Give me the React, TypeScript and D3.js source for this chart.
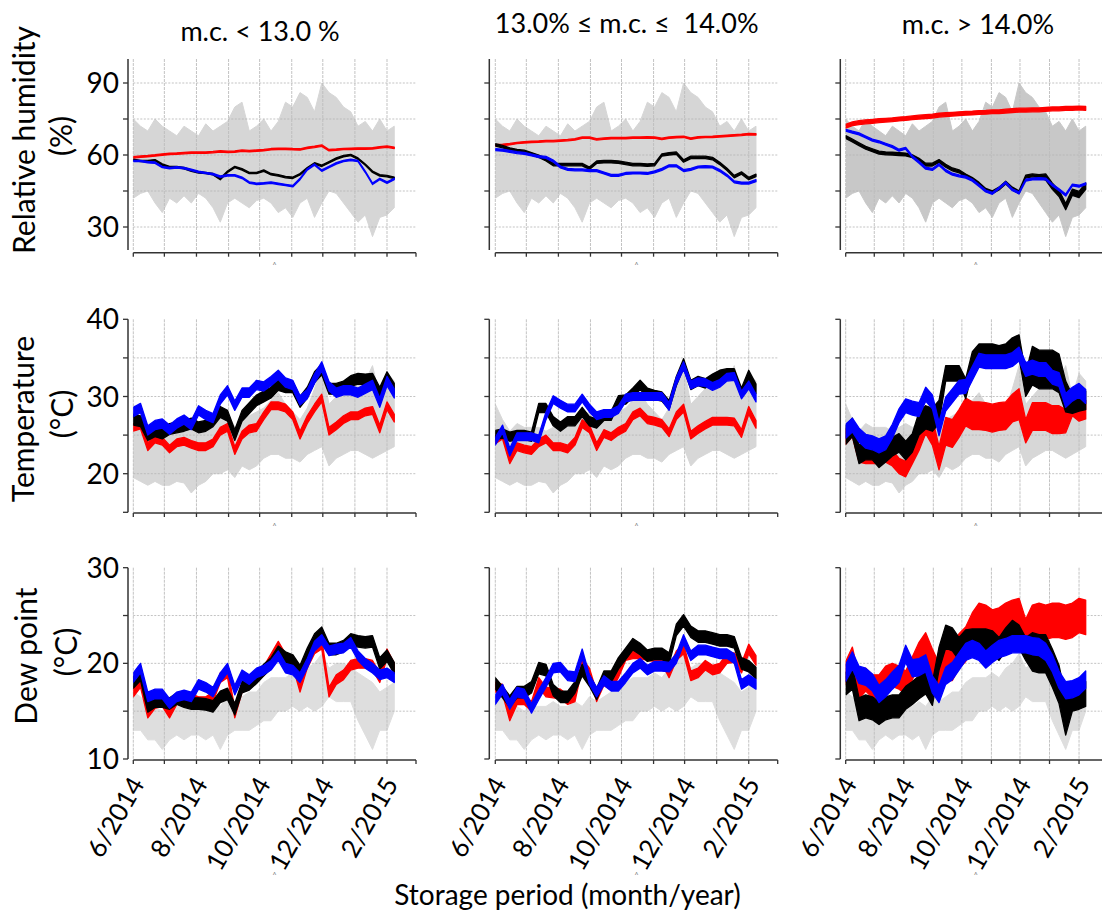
import React from "react";
import * as d3 from "d3";

// Sample offsets (days after 1 June 2014) shared by every weekly series
const sampleDays = [0, 7, 14, 21, 28, 35, 42, 49, 56, 63, 70, 77, 84, 91, 98, 105, 112, 119, 126, 133, 140, 147, 154, 161, 168, 175, 182, 189, 196, 203, 210, 217, 224, 231, 238, 245, 252];

// Ambient (outside) envelope, weekly low / high
const ambientRhLo = [42, 44, 45, 40, 36, 42, 40, 43, 40, 44, 42, 38, 32, 40, 42, 40, 38, 41, 42, 40, 36, 38, 34, 40, 42, 34, 40, 45, 44, 40, 36, 32, 35, 26, 34, 35, 38];
const ambientRhHi = [75, 72, 70, 75, 72, 70, 68, 72, 70, 68, 73, 70, 72, 74, 80, 82, 70, 72, 75, 70, 74, 82, 80, 86, 84, 78, 90, 86, 84, 80, 78, 72, 74, 70, 75, 70, 72];
const ambientTempLo = [19.5, 19, 18.5, 19, 18.5, 18.5, 19, 18.8, 17.5, 18.5, 19, 20, 20, 20.5, 19.5, 21, 20.5, 21, 22, 22.5, 22.5, 22, 22, 21.5, 22.5, 23, 23.5, 21, 22, 22.5, 23, 23, 22.5, 22, 22.5, 23, 23.5];
const ambientTempHi = [29, 27, 25.5, 26.5, 26, 26, 26, 25.5, 26, 26.5, 26, 26.5, 27.5, 28, 26, 27, 27.5, 28, 28.5, 29.5, 30.5, 29, 28, 27, 28.5, 31, 34, 29, 30, 31, 32, 33, 32, 34, 30, 33, 32];
const ambientDewLo = [13, 13, 12, 12, 11, 12, 12.5, 12, 12.5, 12.5, 12, 12.5, 11, 12.5, 13, 13, 13, 13.5, 14, 14, 15, 15, 15.5, 15, 15.5, 15, 15.5, 16.5, 16, 16, 16, 14, 12.5, 11, 13, 13, 15];
const ambientDewHi = [17, 16.5, 15.5, 15.5, 15, 15.5, 15.5, 15.5, 16, 15.5, 15.5, 16, 15.5, 16.5, 16, 16.5, 17, 17, 18, 18.5, 18.5, 18.5, 19, 18.5, 19.5, 20, 21, 19.5, 20, 20, 19.5, 19, 18.5, 18, 17, 17.5, 18];

// Relative humidity (%) inside the stores
const rhLowRed = [59, 59.3, 59.5, 59.8, 60.2, 60.5, 60.6, 60.8, 61, 61, 61, 61.2, 61.5, 61.3, 61.4, 61.8, 61.6, 61.8, 62, 62.4, 62.6, 62.6, 62.4, 62.3, 63, 63.4, 63.9, 62, 62.2, 62.5, 62.6, 62.7, 62.7, 62.8, 63.2, 63.5, 63];
const rhLowBlack = [58, 57.5, 57.5, 57.8, 56, 55, 55, 54.5, 53.5, 52.8, 52.5, 52, 50, 53, 55, 54, 52.5, 52.5, 53.5, 52, 51.5, 50.8, 50.5, 52, 54.5, 56.5, 55.5, 57, 58.5, 59.5, 60, 58.5, 56, 53, 51.5, 51.2, 50.5];
const rhLowBlue = [57.5, 57.5, 57, 56.8, 55, 54.5, 54.8, 54.5, 53.8, 53, 52.5, 52, 51, 51.5, 51.5, 50.5, 48.5, 48, 48.2, 48.5, 48, 47.5, 47, 50, 54, 56, 53.5, 55, 56.5, 57.5, 58, 57.5, 53, 48, 50, 48.5, 50];
const rhMidRed = [64, 64.2, 64.5, 65, 65.3, 65.5, 65.6, 65.8, 65.8, 66, 66.2, 66.5, 67.2, 67.2, 66.5, 66.8, 67, 67, 67, 67.2, 67.2, 67.3, 67.2, 66.7, 67.2, 67.4, 67.6, 66.8, 67.3, 67.5, 67.6, 67.8, 68, 68.2, 68.4, 68.7, 68.6];
const rhMidBlack = [64.2, 63.5, 62.5, 61.8, 61.5, 60.5, 59.5, 58, 56, 56, 56, 56, 56, 54.5, 57, 57.2, 57.2, 57, 56.5, 56, 56, 55.8, 56, 60, 60.5, 60.8, 57.5, 59, 59, 59, 58.5, 56.5, 54, 51, 52.5, 50.2, 51.5];
const rhMidBlue = [62.2, 62, 61.5, 61, 60.7, 60, 59.3, 59, 57.5, 55, 54, 53.8, 53.8, 53.5, 53.5, 52.5, 51.5, 51.5, 52.3, 52.5, 52.5, 52.3, 53, 54, 55.5, 55.5, 53.5, 54, 55, 55.2, 55, 53.5, 51.5, 48.8, 48.3, 48.3, 49.3];
const rhHighRed = [72, 73, 73.5, 73.8, 74, 74.3, 74.5, 74.7, 75, 75.2, 75.5, 75.8, 76, 76.2, 76.6, 76.8, 77, 77.2, 77.4, 77.5, 77.7, 77.8, 78, 78, 78.3, 78.5, 78.7, 78.7, 78.8, 78.8, 79, 79.2, 79.2, 79.4, 79.4, 79.6, 79.4];
const rhHighBlack = [67.5, 66, 64.5, 63, 62, 61, 60.7, 60.6, 60.4, 60.2, 59.5, 58, 56, 56, 57.5, 55.5, 54, 53.2, 51.5, 50, 48, 45.5, 44.5, 46, 48.5, 46, 44.5, 51, 51.5, 51.2, 50.8, 47, 44, 38.5, 44.5, 43.5, 47];
const rhHighBlue = [70.3, 69.5, 68.8, 67.5, 66.2, 65.5, 64.5, 63.5, 62, 62.8, 59.3, 57, 54.5, 54, 56, 53.5, 52, 51.3, 50.8, 49.5, 47.3, 45, 44, 46.2, 48.5, 45.5, 44.2, 49.5, 50, 50.2, 50, 47.5, 45.5, 43.3, 47.5, 47, 48];

// Temperature (°C) inside the stores
const tempLowRed = [26, 26.3, 23.5, 24.5, 24.2, 23.2, 24, 24.2, 23.8, 23.5, 23.5, 24, 25.5, 26, 23, 25, 25.8, 26, 27.5, 28.8, 28.8, 28.5, 27.5, 25, 27, 28.5, 29.8, 25.5, 26.2, 27, 27.5, 27.5, 28, 28.2, 25.8, 28.8, 27.2];
const tempLowBlack = [27, 26.8, 25, 25.5, 25.2, 25.8, 26, 26.2, 26.5, 26, 26.2, 26.8, 28, 27.5, 25, 27.5, 28.5, 29.5, 30, 30.5, 31.5, 31.2, 31.2, 29.3, 30.5, 32.5, 33.5, 31, 31, 31.3, 32, 32.3, 32.2, 32.3, 30.5, 32.5, 31];
const tempLowBlue = [28, 28.5, 25.6, 26.3, 26.5, 25.7, 26.5, 27, 26.3, 28.2, 27.6, 27.2, 29.6, 30.8, 28.8, 30.5, 30.5, 31.5, 31.3, 32, 32.8, 31.8, 31.5, 29.5, 30.3, 32.3, 33.9, 31.3, 30.5, 30.8, 30.8, 30.5, 31, 31.5, 29.2, 32, 30.4];
const tempMidRed = [24.4, 25, 21.8, 23.5, 23.2, 23, 24, 24.5, 23.5, 23.5, 23.2, 24.2, 26.5, 25.8, 23.5, 25.2, 24.8, 25.5, 26, 27.5, 28, 27, 26.8, 26.5, 25.3, 27.5, 28.5, 25, 25.7, 26.3, 26.8, 26.8, 26.8, 26.7, 25.2, 28.2, 26.4];
const tempMidBlack = [25, 25.2, 24.8, 25, 25, 24.8, 28.5, 28.5, 26.8, 26.1, 26.8, 26.8, 28, 26.8, 26.5, 27.5, 27.5, 29.5, 29.6, 30.5, 31.5, 30.5, 30.2, 30, 28.9, 32, 34.3, 31.5, 32, 31.7, 32.3, 32.8, 33, 33, 30.5, 32.8, 31];
const tempMidBlue = [24.2, 25.8, 22.8, 24.8, 24.8, 24.8, 24.5, 27.5, 29.6, 29, 28.5, 28.5, 29.8, 28.5, 27.5, 27.8, 27.8, 28.3, 29.8, 30, 30, 30, 30, 30, 28.7, 32, 34, 31.5, 31.9, 31.8, 31.3, 31.7, 32.5, 32.6, 30.2, 31.5, 29.8];
const tempHighRed = [24.8, 25.8, 22.5, 22.3, 22.3, 22.3, 22.5, 22, 21, 20.6, 22.3, 24.5, 27, 25.5, 22, 25.5, 25.2, 26.5, 28, 27.5, 27.5, 27.4, 27.2, 27.4, 27.5, 28.5, 29, 25.5, 27.4, 27.4, 27.4, 27, 27, 26.8, 29, 28.3, 28.3];
const tempHighBlack = [25, 26, 22.5, 23, 23, 22, 22.7, 23.5, 24, 23, 24, 26.5, 27.3, 27, 28, 33, 33, 33, 31, 34.5, 35.5, 35.5, 35.5, 35.3, 35.5, 36.3, 36.5, 31.5, 34, 33.5, 33.5, 33.5, 33, 30, 29, 29.3, 29.5];
const tempHighBlue = [25.5, 26.3, 25, 24.2, 24, 23.6, 24, 25.5, 27.5, 28.8, 28.5, 28.3, 30.3, 29.3, 25.8, 29, 30.1, 31.2, 31.3, 33, 34.7, 34.5, 34.5, 34.5, 34.5, 34.8, 35.5, 33.5, 33.8, 33.5, 33.5, 32.5, 32.2, 29.5, 30.3, 30.8, 30];

// Dew point (°C) inside the stores
const dewLowRed = [17, 18, 14.8, 15.8, 16, 14.8, 16.2, 16.5, 16.3, 16, 16, 16.5, 18.5, 19, 14.8, 17.5, 17.8, 18.8, 19.2, 20.5, 21.8, 20.5, 20.2, 17.5, 20, 21.5, 22, 17, 18.3, 18.8, 19.8, 20, 20, 19.8, 18.5, 21, 19.5];
const dewLowBlack = [18, 18.8, 15.5, 16, 16, 15.8, 16.3, 16, 15.8, 15.8, 15.7, 15.5, 16.5, 16.8, 15.2, 17.5, 17.8, 18.5, 19.3, 20, 21.2, 20.6, 20.3, 19.2, 21, 22.5, 23.2, 21.5, 21.5, 21.8, 22.5, 22.3, 22.2, 22.3, 20, 20.8, 19.5];
const dewLowBlue = [18.5, 19.5, 16.5, 16.8, 16.8, 15.8, 16.5, 16.7, 16.5, 17.8, 17.5, 17, 18.5, 19.5, 17.2, 18.8, 18.3, 19, 19.3, 19.8, 20.8, 19.5, 19.3, 18.5, 20, 21.8, 22.5, 21.3, 21.5, 21.6, 22.2, 20.8, 20, 19.5, 18.8, 19, 18.5];
const dewMidRed = [17.5, 17.3, 14.5, 16.2, 16.2, 15.5, 18, 17, 16.9, 16.8, 16.2, 16.5, 20, 19, 16.5, 18.2, 17.7, 19, 20.8, 21, 21, 20.8, 20.7, 20.5, 19, 20.8, 21.5, 18.7, 19, 19.8, 19.3, 19.5, 20.5, 20.6, 19.5, 21.5, 20.3];
const dewMidBlack = [17.9, 17, 16, 17, 17, 17.5, 19.5, 19.3, 17.2, 16.5, 16.5, 17.5, 19.3, 18.2, 16.8, 18.6, 18.6, 20, 21, 22, 21.5, 20.8, 21, 21, 20.5, 23.5, 24.5, 23.3, 22.8, 22.8, 22.6, 22.4, 22.4, 22.2, 20, 19.7, 19];
const dewMidBlue = [16.2, 17.3, 15.7, 17, 16.8, 15.3, 16.7, 18, 19.5, 19.6, 18.7, 18.6, 21, 18.3, 17, 18.2, 17.6, 17.6, 18.5, 19.5, 20, 19.3, 19.7, 19.7, 19.6, 20.5, 22.5, 20.8, 21.4, 21.4, 21.2, 21, 21, 20.5, 17.8, 18.3, 17.8];
const dewHighRed = [19, 20.5, 17.5, 18.3, 17.6, 17.6, 18.5, 18.8, 18.5, 18, 19.5, 21, 21.7, 20, 18.5, 20, 20, 21.3, 22, 23.5, 24.5, 24.3, 23.8, 24, 24.5, 24.8, 25, 22.8, 24.3, 24.5, 24.3, 24.5, 24.5, 24.3, 24.5, 25, 24.8];
const dewHighBlack = [17.9, 18.5, 15.2, 15.5, 15.3, 14.8, 15.3, 15.5, 15.5, 16.4, 16.9, 17.5, 18, 16.8, 20.5, 22.8, 22.5, 21.5, 22.3, 22.4, 22.4, 22.4, 22.2, 21.5, 22.5, 23.3, 22.8, 21.5, 21.2, 21, 21, 19.5, 17.8, 14.5, 16.3, 16.5, 16.8];
const dewHighBlue = [19, 20.3, 18.8, 18.6, 18, 16.8, 17.4, 18.2, 18.9, 21, 19.5, 19.6, 20, 17.8, 16.8, 18.7, 19.2, 20.2, 21.2, 21.5, 21.2, 20.4, 21, 21.5, 21.7, 22, 22, 22, 21.8, 21.7, 21.2, 20, 18.3, 17.2, 17.3, 17.6, 18.3];

// Half-width of the short-term fluctuation band around each trace
const rhHighBlackSpread = [0.6, 0.6, 0.6, 0.6, 0.6, 0.6, 0.6, 0.6, 0.6, 0.6, 0.6, 0.6, 0.6, 0.6, 0.6, 0.6, 0.6, 0.6, 0.6, 0.6, 0.6, 0.6, 0.6, 0.6, 0.6, 0.6, 0.6, 0.6, 0.6, 0.6, 1.3, 1.3, 1.3, 1.3, 1.3, 1.3, 1.3];
const tempHighBlackSpread = [1.2, 1.2, 1.2, 1.2, 1.2, 1.2, 1.2, 1.2, 1.2, 1.2, 1.2, 1.5, 1.5, 1.5, 1.5, 1, 1, 1, 1.3, 1.3, 1.3, 1.3, 1.3, 1.3, 1.3, 1.3, 1.5, 1.5, 2.5, 2.5, 2.5, 2.5, 2.5, 2, 1.2, 1.2, 1.2];
const tempHighRedSpread = [1, 1, 1, 1, 1, 1, 1, 1, 1, 1, 1, 1.5, 1.8, 1.8, 1.5, 1.8, 1.8, 1.8, 1.8, 1.8, 1.8, 1.8, 1.8, 1.8, 1.8, 1.8, 2, 1.5, 1.8, 1.8, 1.8, 1.8, 1.8, 1.5, 1.5, 1.5, 1.2];
const dewHighRedSpread = [1.2, 1.2, 1.2, 1.2, 1.2, 1.2, 1.2, 1.2, 1.2, 1.2, 1.2, 1.2, 1.5, 1.5, 1.5, 1.8, 1.8, 1.8, 1.8, 1.8, 1.8, 1.8, 1.8, 1.8, 1.8, 1.8, 1.8, 1.8, 1.8, 1.8, 1.8, 1.8, 1.8, 1.8, 1.8, 1.8, 1.8];
const dewHighBlackSpread = [1.2, 1.2, 1.2, 1.2, 1.2, 1.2, 1.2, 1.2, 1.2, 1.2, 1.2, 1.2, 1.2, 1.2, 1.2, 1.2, 1.2, 1.2, 1.2, 1.2, 1.2, 1.2, 1.2, 1.2, 1.2, 1.2, 1.2, 1.2, 2, 2, 2, 2, 2, 2, 1.3, 1.3, 1.3];

const columnTitles = ["m.c. < 13.0 %", "13.0% \u2264 m.c. \u2264  14.0%", "m.c. > 14.0%"];
const rowTitles = ["Relative humidity", "Temperature", "Dew point"];
const rowUnits = ["(%)", "(\u00B0C)", "(\u00B0C)"];
const xAxisTitle = "Storage period (month/year)";

const rhTicks = [30, 45, 60, 75, 90];
const rhLabels = [30, 60, 90];
const tempTicks = [15, 20, 25, 30, 35, 40];
const tempLabels = [20, 30, 40];
const tempGrid = [20, 25, 30, 35];
const dewTicks = [10, 15, 20, 25, 30];
const dewLabels = [10, 20, 30];
const dewGrid = [15, 20, 25];

const START = new Date(Date.UTC(2014, 5, 1));
const END = new Date(Date.UTC(2015, 2, 1));
const monthTicks = d3.utcMonth.range(START, new Date(Date.UTC(2015, 2, 2)));
const gridMonths = monthTicks.filter((d) => d < END);
const labelMonths = [
  new Date(Date.UTC(2014, 5, 1)),
  new Date(Date.UTC(2014, 7, 1)),
  new Date(Date.UTC(2014, 9, 1)),
  new Date(Date.UTC(2014, 11, 1)),
  new Date(Date.UTC(2015, 1, 1)),
];
const fmtMonth = (d: Date) => `${d.getUTCMonth() + 1}/${d.getUTCFullYear()}`;

const RED = "#ff0000";
const BLACK = "#000000";
const BLUE = "#0000ff";

type Trace = { values: number[]; spread: number | number[]; color: string };
type Ambient = { lo: number[]; hi: number[] };

const ambient: Ambient[] = [
  { lo: ambientRhLo, hi: ambientRhHi },
  { lo: ambientTempLo, hi: ambientTempHi },
  { lo: ambientDewLo, hi: ambientDewHi },
];

// traces[row][column], drawn red, black, blue (blue on top)
const traces: Trace[][][] = [
  [
    [{ values: rhLowRed, spread: 0.3, color: RED }, { values: rhLowBlack, spread: 0.3, color: BLACK }, { values: rhLowBlue, spread: 0.3, color: BLUE }],
    [{ values: rhMidRed, spread: 0.3, color: RED }, { values: rhMidBlack, spread: 0.5, color: BLACK }, { values: rhMidBlue, spread: 0.4, color: BLUE }],
    [{ values: rhHighRed, spread: 0.8, color: RED }, { values: rhHighBlack, spread: rhHighBlackSpread, color: BLACK }, { values: rhHighBlue, spread: 0.4, color: BLUE }],
  ],
  [
    [{ values: tempLowRed, spread: 0.5, color: RED }, { values: tempLowBlack, spread: 0.7, color: BLACK }, { values: tempLowBlue, spread: 0.6, color: BLUE }],
    [{ values: tempMidRed, spread: 0.5, color: RED }, { values: tempMidBlack, spread: 0.6, color: BLACK }, { values: tempMidBlue, spread: 0.5, color: BLUE }],
    [{ values: tempHighRed, spread: tempHighRedSpread, color: RED }, { values: tempHighBlack, spread: tempHighBlackSpread, color: BLACK }, { values: tempHighBlue, spread: 0.9, color: BLUE }],
  ],
  [
    [{ values: dewLowRed, spread: 0.5, color: RED }, { values: dewLowBlack, spread: 0.6, color: BLACK }, { values: dewLowBlue, spread: 0.5, color: BLUE }],
    [{ values: dewMidRed, spread: 0.5, color: RED }, { values: dewMidBlack, spread: 0.6, color: BLACK }, { values: dewMidBlue, spread: 0.5, color: BLUE }],
    [{ values: dewHighRed, spread: dewHighRedSpread, color: RED }, { values: dewHighBlack, spread: dewHighBlackSpread, color: BLACK }, { values: dewHighBlue, spread: 0.9, color: BLUE }],
  ],
];

// Panel geometry
const COLS = [
  { x0: 133.3, x1: 416, axisX: 128, titleX: 260, titleY: 40.7 },
  { x0: 495.3, x1: 777.7, axisX: 489.3, titleX: 626.7, titleY: 33.3 },
  { x0: 845.7, x1: 1105.7, axisX: 840.3, titleX: 978, titleY: 34.3 },
];
const ROWS = [
  { domain: [20, 100], yBot: 251, yTop: 59, axisTop: 59, axisBot: 250, xAxisY: 252.7, ticks: rhTicks, labels: rhLabels, grid: rhTicks, grey: ["#d6d6d6", "#d6d6d6", "#c8c8c8"], titleX: 35, titleY: 140, unitX: 72, unitY: 136, caretY: 268 },
  { domain: [15, 40], yBot: 512.3, yTop: 319.3, axisTop: 319.3, axisBot: 512.3, xAxisY: 513, ticks: tempTicks, labels: tempLabels, grid: tempGrid, grey: ["#d7d7d7", "#d7d7d7", "#d7d7d7"], titleX: 33.5, titleY: 419, unitX: 73, unitY: 414, caretY: 529 },
  { domain: [10, 30], yBot: 759, yTop: 567.7, axisTop: 567.7, axisBot: 759, xAxisY: 760, ticks: dewTicks, labels: dewLabels, grid: dewGrid, grey: ["#dedede", "#dedede", "#dedede"], titleX: 37, titleY: 656, unitX: 77, unitY: 652, caretY: 878 },
];

const FONT = "Lato, 'Open Sans', sans-serif";
const dayDate = (d: number) => d3.utcDay.offset(START, d);

function Panel({ ri, ci }: { ri: number; ci: number }) {
  const row = ROWS[ri];
  const col = COLS[ci];
  const xs = d3.scaleUtc().domain([START, END]).range([col.x0, col.x1]);
  const ys = d3.scaleLinear().domain(row.domain).range([row.yBot, row.yTop]);
  const band = d3
    .area<[number, number, number]>()
    .x((p) => xs(dayDate(p[0])))
    .y0((p) => ys(p[1]))
    .y1((p) => ys(p[2]));

  const amb = ambient[ri];
  const ambPts = sampleDays.map((d, i) => [d, amb.lo[i], amb.hi[i]] as [number, number, number]);
  const clipId = `clip-${ri}-${ci}`;

  return (
    <g>
      <defs>
        <clipPath id={clipId}>
          <rect x={col.x0} y={row.yTop} width={Math.min(col.x1, 1102) - col.x0} height={row.yBot - row.yTop} />
        </clipPath>
      </defs>
      <g clipPath={`url(#${clipId})`}>
        <path d={band(ambPts) || ""} fill={row.grey[ci]} stroke={row.grey[ci]} strokeWidth={1} strokeLinejoin="round" />
      </g>
      {/* grid */}
      {row.grid.map((v) => (
        <line key={`h${v}`} x1={col.x0} x2={col.x1} y1={ys(v)} y2={ys(v)} stroke="#b4b4b4" strokeWidth={0.8} strokeDasharray="2 1.5" />
      ))}
      {gridMonths.map((m, i) => (
        <line key={`v${i}`} x1={xs(m)} x2={xs(m)} y1={row.axisTop} y2={row.axisBot} stroke="#bcbcbc" strokeWidth={0.9} strokeDasharray="3 1" />
      ))}
      {/* indoor traces */}
      <g clipPath={`url(#${clipId})`}>
        {traces[ri][ci].map((t, k) => {
          const pts = sampleDays.map((d, i) => {
            const s = Array.isArray(t.spread) ? t.spread[i] : t.spread;
            return [d, t.values[i] - s, t.values[i] + s] as [number, number, number];
          });
          return <path key={k} d={band(pts) || ""} fill={t.color} stroke={t.color} strokeWidth={1.3} strokeLinejoin="round" />;
        })}
      </g>
      {/* y axis */}
      <line x1={col.axisX} x2={col.axisX} y1={row.axisTop} y2={row.axisBot} stroke="#333" strokeWidth={1.5} />
      {row.ticks.map((v) => (
        <line key={`yt${v}`} x1={col.axisX - 5} x2={col.axisX} y1={ys(v)} y2={ys(v)} stroke="#333" strokeWidth={1.3} />
      ))}
      {ci === 0 &&
        row.labels.map((v) => (
          <text key={`yl${v}`} x={col.axisX - 9} y={ys(v)} dy="0.36em" textAnchor="end" fontSize={28} fill="#000" fontFamily={FONT}>
            {v}
          </text>
        ))}
      {/* x axis */}
      <line x1={col.x0} x2={col.x1} y1={row.xAxisY} y2={row.xAxisY} stroke="#333" strokeWidth={1.5} />
      {monthTicks.map((m, i) => (
        <line key={`xt${i}`} x1={xs(m)} x2={xs(m)} y1={row.xAxisY} y2={row.xAxisY + 4} stroke="#333" strokeWidth={1.3} />
      ))}
      {ri === 2 &&
        labelMonths.map((m, i) => (
          <text
            key={`xl${i}`}
            transform={`translate(${xs(m) + 12},${row.xAxisY + 24}) rotate(-60)`}
            textAnchor="end"
            fontSize={26}
            fill="#000"
            fontFamily={FONT}
          >
            {fmtMonth(m)}
          </text>
        ))}
      <text x={(col.x0 + col.x1) / 2} y={row.caretY} textAnchor="middle" fontSize={7} fill="#777" fontFamily={FONT}>
        ^
      </text>
    </g>
  );
}

export default function App() {
  return (
    <svg width={1102} height={913} style={{ position: "absolute", left: 0, top: 0, display: "block" }} fontFamily={FONT}>
      <rect width={1102} height={913} fill="#ffffff" />
      {ROWS.map((_, ri) => COLS.map((_, ci) => <Panel key={`${ri}-${ci}`} ri={ri} ci={ci} />))}
      {COLS.map((c, ci) => (
        <text key={`t${ci}`} x={c.titleX} y={c.titleY} textAnchor="middle" fontSize={27} fill="#000" style={{ whiteSpace: "pre" }}>
          {columnTitles[ci]}
        </text>
      ))}
      {ROWS.map((r, ri) => (
        <g key={`rt${ri}`}>
          <text transform={`translate(${r.titleX},${r.titleY}) rotate(-90)`} textAnchor="middle" fontSize={30} fill="#000">
            {rowTitles[ri]}
          </text>
          <text transform={`translate(${r.unitX},${r.unitY}) rotate(-90)`} textAnchor="middle" fontSize={30} fill="#000">
            {rowUnits[ri]}
          </text>
        </g>
      ))}
      <text x={567.5} y={905} textAnchor="middle" fontSize={28} fill="#000">
        {xAxisTitle}
      </text>
    </svg>
  );
}
